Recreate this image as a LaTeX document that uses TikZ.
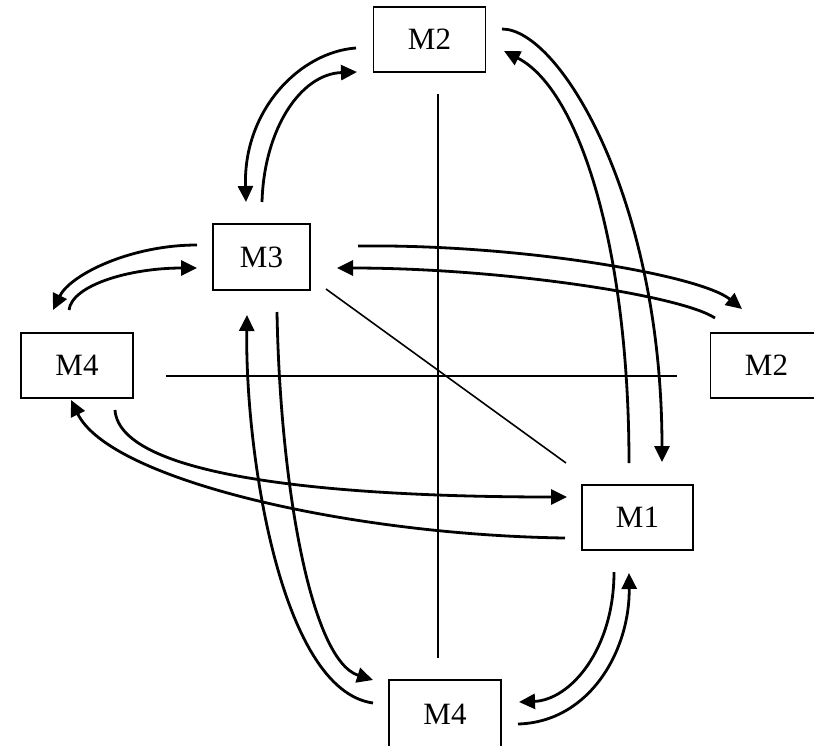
\documentclass[tikz,border=0pt]{standalone}
\usepackage{fontspec}
\setmainfont{Liberation Serif}
\usepackage{tikz}
\usetikzlibrary{arrows.meta}

\begin{document}
\begin{tikzpicture}[
    x=1pt,y=-1pt,
    box/.style={draw=black,line width=1.6pt,fill=white,
      minimum width=112pt,minimum height=65pt,inner sep=0pt,
      font=\fontsize{31}{36}\selectfont},
    arrow/.style={-{Triangle[length=16pt,width=15pt]},draw=black,line width=2.8pt},
    plain/.style={draw=black,line width=1.6pt}
  ]
    \useasboundingbox (0,0) rectangle (814,745);
    % axes
    \coordinate (vtop) at (438,94);  \coordinate (vbot) at (438,658);
    \coordinate (hleft) at (166,376);\coordinate (hright) at (677,376);
    \coordinate (dtop) at (326,289); \coordinate (dbot) at (566,463);
    \draw[plain] (vtop)--(vbot);\draw[plain] (hleft)--(hright);\draw[plain] (dtop)--(dbot);
    % modules
    \node[box] (m2top) at (429.5,39.5) {M2};
    \node[box,minimum width=97pt,minimum height=66pt] (m3) at (261.5,257) {M3};
    \node[box] (m4left) at (77,365.5) {M4};
    \node[box] (m2right) at (766.5,365.5) {M2};
    \node[box,minimum width=111pt] (m1) at (637.5,517.5) {M1};
    \node[box,minimum height=68pt] (m4bot) at (445,714) {M4};
    % M3 -- M2 (top)
    \draw[arrow] ([shift={(0.5,-55)}]m3.center) .. controls +(2,-72) and +(-57,2) .. ([shift={(-72.5,32.5)}]m2top.center);
    \draw[arrow] ([shift={(-73.5,8.5)}]m2top.center) .. controls +(-56,4) and +(-3,-92) .. ([shift={(-15.5,-55)}]m3.center);
    % M2 (top) -- M1
    \draw[arrow] ([shift={(72.5,-10.5)}]m2top.center) .. controls +(58,0) and +(0,-262) .. ([shift={(24.5,-55.5)}]m1.center);
    \draw[arrow] ([shift={(-8.5,-54.5)}]m1.center) .. controls +(0,-213) and +(76,39) .. ([shift={(74.5,11.5)}]m2top.center);
    % M3 -- M4 (left)
    \draw[arrow] ([shift={(-64.5,-12)}]m3.center) .. controls +(-67,0) and +(17,-35) .. ([shift={(-24,-55.5)}]m4left.center);
    \draw[arrow] ([shift={(-8,-55.5)}]m4left.center) .. controls +(3,-25) and +(-67,0) .. ([shift={(-64.5,11)}]m3.center);
    % M3 -- M2 (right)
    \draw[arrow] ([shift={(96.5,-11)}]m3.center) .. controls +(162,-2) and +(-42,-34) .. ([shift={(-24.5,-56.5)}]m2right.center);
    \draw[arrow] ([shift={(-51.5,-47.5)}]m2right.center) .. controls +(-35,-23) and +(163,0) .. ([shift={(75.5,11)}]m3.center);
    % M3 -- M4 (bottom)
    \draw[arrow] ([shift={(15.5,55)}]m3.center) .. controls +(3,168) and +(-63,-20) .. ([shift={(-72,-34)}]m4bot.center);
    \draw[arrow] ([shift={(-72,-11)}]m4bot.center) .. controls +(-93,-13) and +(-2,135) .. ([shift={(-14.5,58)}]m3.center);
    % M1 -- M4 (bottom)
    \draw[arrow] ([shift={(-23.5,54.5)}]m1.center) .. controls +(0,78) and +(51,-2) .. ([shift={(74,-12)}]m4bot.center);
    \draw[arrow] ([shift={(73,10)}]m4bot.center) .. controls +(72,-2) and +(1,77) .. ([shift={(-8.5,55.5)}]m1.center);
    % M4 (left) -- M1
    \draw[arrow] ([shift={(38,44.5)}]m4left.center) .. controls +(5,70) and +(-217,0) .. ([shift={(-70.5,-20.5)}]m1.center);
    \draw[arrow] ([shift={(-72.5,20.5)}]m1.center) .. controls +(-215,-3) and +(39,80) .. ([shift={(-6,34.5)}]m4left.center);
  \end{tikzpicture}
\end{document}
